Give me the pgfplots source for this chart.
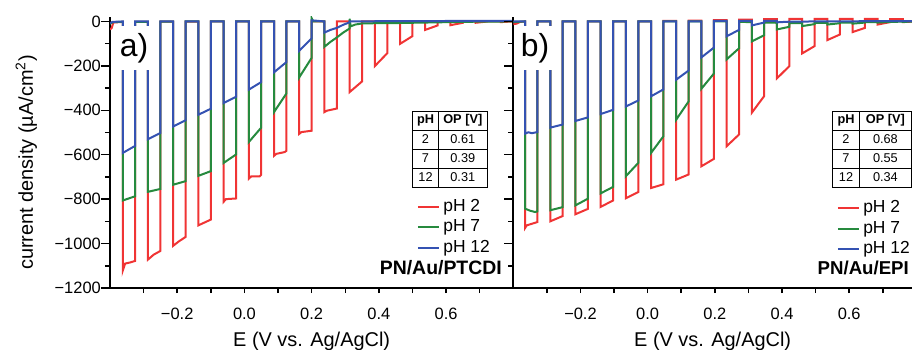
\documentclass[border=0pt]{standalone}
\usepackage{fontspec}
\setmainfont{Liberation Sans}
\usepackage{pgfplots}
\pgfplotsset{compat=1.18}
\definecolor{cred}{RGB}{240,52,52}
\definecolor{cgreen}{RGB}{38,138,62}
\definecolor{cblue}{RGB}{52,82,178}
\pgfplotsset{
  panel/.style={
    scale only axis, height=271bp,
    xmin=-0.4, ymin=-1200, ymax=20,
    axis x line*=bottom, axis y line*=left,
    axis line style={line width=1.8bp, -},
    every tick/.style={black, line width=1.5bp},
    tick align=outside,
    major tick length=9bp, minor tick length=5bp,
    xtick style={/pgfplots/major tick length=5bp},
    xtick={-0.2,0,0.2,0.4,0.6},
    minor xtick={-0.3,-0.1,0.1,0.3,0.5,0.7},
    ytick={-1200,-1000,-800,-600,-400,-200,0},
    minor ytick={-1100,-900,-700,-500,-300,-100},
    xticklabels={−0.2,0.0,0.2,0.4,0.6},
    tick label style={font=\fontsize{16.5}{16.5}\selectfont},
    yticklabel style={anchor=east, inner sep=0pt},
    xticklabel style={anchor=north, inner sep=0pt, yshift=-11bp},
    xlabel={E (V vs. Ag/AgCl)},
    xlabel style={at={(axis description cs:0.5,-0.216)}, anchor=base, font=\fontsize{20}{20}\selectfont},
    clip=true,
    legend cell align=left,
    legend style={draw=none, fill=none, inner sep=0pt, column sep=3.4bp, row sep=3.5bp,
      font=\fontsize{17.5}{17.5}\selectfont,
      nodes={inner sep=0pt, text height=13bp, text depth=4bp}},
    legend image code/.code={\draw[#1] (0bp,0bp) -- (21bp,0bp);},
  },
  tr/.style={line width=2bp, no markers, #1},
}
\begin{document}
\begin{tikzpicture}
% ---------------- panel a ----------------
\begin{axis}[panel, at={(110bp,62bp)}, anchor=south west, width=403.3bp, xmax=0.8,
  yticklabels={−1200,−1000,−800,−600,−400,−200,0},
  ylabel={current density (µA/cm\textsuperscript{2})},
  ylabel style={at={(axis description cs:-0.191,0.463)}, anchor=base, rotate=0, font=\fontsize{20}{20}\selectfont},
  legend style={at={(axis description cs:0.7605,0.3314)}, anchor=north west}]
\addplot[tr=cred] coordinates {
(-0.400,-36) (-0.395,-30) (-0.390,-5) (-0.362,-2)
(-0.362,-1122) (-0.355,-1090) (-0.340,-1085) (-0.325,-1078) (-0.325,-2) (-0.287,-2)
(-0.287,-1072) (-0.270,-1050) (-0.250,-1033) (-0.250,-1) (-0.212,-1)
(-0.212,-1010) (-0.195,-990) (-0.175,-970) (-0.175,-1) (-0.137,-1)
(-0.137,-918) (-0.100,-892) (-0.100,0) (-0.062,0)
(-0.062,-812) (-0.055,-800) (-0.025,-797) (-0.025,0) (0.013,0)
(0.013,-708) (0.020,-698) (0.045,-698) (0.050,-690) (0.050,0) (0.088,0)
(0.088,-605) (0.095,-596) (0.120,-588) (0.125,-582) (0.125,0) (0.163,0)
(0.163,-506) (0.170,-498) (0.200,-492) (0.200,0) (0.238,0)
(0.238,-408) (0.245,-402) (0.275,-392) (0.275,0) (0.313,0)
(0.313,-318) (0.350,-270) (0.350,0) (0.388,0)
(0.388,-201) (0.425,-143) (0.425,0) (0.463,0)
(0.463,-101) (0.500,-66) (0.500,0) (0.538,0)
(0.538,-38) (0.575,-18) (0.575,0) (0.613,0)
(0.613,-17) (0.650,-6) (0.650,0) (0.688,0)
(0.688,-6) (0.725,0) (0.763,0)
(0.763,-3) (0.800,0)
};
\addlegendentry{pH 2}
\addplot[tr=cgreen] coordinates {
(-0.400,-10) (-0.390,-3) (-0.362,-2)
(-0.362,-806) (-0.325,-787) (-0.325,-2) (-0.287,-2)
(-0.287,-767) (-0.250,-754) (-0.250,-1) (-0.212,-1)
(-0.212,-735) (-0.175,-719) (-0.175,0) (-0.137,0)
(-0.137,-695) (-0.100,-674) (-0.100,0) (-0.062,0)
(-0.062,-637) (-0.025,-599) (-0.025,0) (0.013,0)
(0.013,-543) (0.050,-478) (0.050,0) (0.088,0)
(0.088,-408) (0.125,-324) (0.125,0) (0.163,0)
(0.163,-252) (0.200,-164) (0.200,15) (0.205,0) (0.238,0)
(0.238,-114) (0.256,-92) (0.275,-72) (0.294,-50) (0.313,-32) (0.313,12) (0.316,-22)
(0.330,-14) (0.350,-9) (0.388,-8) (0.425,-8) (0.463,-7) (0.500,-6) (0.538,-5)
(0.575,-4) (0.613,-3) (0.650,-2) (0.700,-1) (0.800,0)
};
\addlegendentry{pH 7}
\addplot[tr=cblue] coordinates {
(-0.400,-8) (-0.392,-2) (-0.362,0)
(-0.362,-592) (-0.325,-560) (-0.325,0) (-0.287,0)
(-0.287,-530) (-0.250,-502) (-0.250,0) (-0.212,0)
(-0.212,-473) (-0.175,-445) (-0.175,0) (-0.137,0)
(-0.137,-420) (-0.100,-393) (-0.100,0) (-0.062,0)
(-0.062,-367) (-0.025,-339) (-0.025,0) (0.013,0)
(0.013,-307) (0.050,-273) (0.050,0) (0.088,0)
(0.088,-229) (0.125,-183) (0.125,0) (0.163,0)
(0.163,-132) (0.200,-76) (0.200,5) (0.238,0)
(0.238,-50) (0.256,-38) (0.275,-29) (0.294,-15) (0.313,-4) (0.313,0)
(0.400,1) (0.600,2) (0.800,3)
};
\addlegendentry{pH 12}
\end{axis}
% ---------------- panel b ----------------
\begin{axis}[panel, at={(513.3bp,62bp)}, anchor=south west, width=398.7bp, xmax=0.787,
  yticklabels={},
  legend style={at={(axis description cs:0.8111,0.3266)}, anchor=north west}]
\addplot[tr=cred] coordinates {
(-0.400,-12) (-0.390,-10) (-0.380,-2) (-0.365,0)
(-0.365,-930) (-0.360,-918) (-0.328,-903) (-0.328,0) (-0.290,0)
(-0.290,-900) (-0.253,-876) (-0.253,0) (-0.215,0)
(-0.215,-868) (-0.178,-844) (-0.178,0) (-0.140,0)
(-0.140,-835) (-0.103,-806) (-0.103,0) (-0.065,0)
(-0.065,-796) (-0.028,-768) (-0.028,0) (0.010,0)
(0.010,-750) (0.047,-733) (0.047,2) (0.085,2)
(0.085,-712) (0.122,-689) (0.122,4) (0.160,4)
(0.160,-652) (0.197,-619) (0.197,6) (0.235,6)
(0.235,-562) (0.272,-509) (0.272,8) (0.310,8)
(0.310,-411) (0.347,-336) (0.347,10) (0.385,10)
(0.385,-256) (0.422,-201) (0.422,12) (0.460,12)
(0.460,-144) (0.497,-111) (0.497,12) (0.535,12)
(0.535,-84) (0.572,-59) (0.572,12) (0.610,12)
(0.610,-48) (0.647,-29) (0.647,12) (0.685,12)
(0.685,-14) (0.722,-3) (0.722,10) (0.760,10)
(0.760,-3) (0.797,0) (0.797,8) (0.800,8)
};
\addlegendentry{pH 2}
\addplot[tr=cgreen] coordinates {
(-0.400,-3) (-0.365,0)
(-0.365,-843) (-0.350,-852) (-0.335,-858) (-0.328,-855) (-0.328,0) (-0.290,0)
(-0.290,-850) (-0.253,-836) (-0.253,0) (-0.215,0)
(-0.215,-828) (-0.178,-798) (-0.178,0) (-0.140,0)
(-0.140,-774) (-0.103,-745) (-0.103,0) (-0.065,0)
(-0.065,-697) (-0.028,-637) (-0.028,0) (0.010,0)
(0.010,-592) (0.047,-517) (0.047,0) (0.085,0)
(0.085,-442) (0.122,-360) (0.122,0) (0.160,0)
(0.160,-303) (0.197,-235) (0.197,0) (0.235,0)
(0.235,-171) (0.272,-121) (0.272,-2) (0.310,-3)
(0.310,-90) (0.347,-62) (0.347,-5) (0.385,-6)
(0.385,-36) (0.422,-24) (0.422,-8) (0.460,-8)
(0.460,-21) (0.497,-12) (0.497,-7) (0.535,-7)
(0.535,-14) (0.572,-8) (0.572,-5) (0.610,-5)
(0.610,-10) (0.647,-5) (0.647,-3) (0.685,-3)
(0.685,-5) (0.722,-2) (0.760,-1)
(0.760,-2) (0.800,0)
};
\addlegendentry{pH 7}
\addplot[tr=cblue] coordinates {
(-0.400,0) (-0.365,0)
(-0.365,-505) (-0.355,-499) (-0.345,-503) (-0.328,-498) (-0.328,0) (-0.290,0)
(-0.290,-478) (-0.253,-464) (-0.253,0) (-0.215,0)
(-0.215,-448) (-0.178,-432) (-0.178,0) (-0.140,0)
(-0.140,-417) (-0.103,-398) (-0.103,0) (-0.065,0)
(-0.065,-383) (-0.028,-356) (-0.028,0) (0.010,0)
(0.010,-337) (0.047,-306) (0.047,0) (0.085,0)
(0.085,-262) (0.122,-221) (0.122,0) (0.160,0)
(0.160,-162) (0.197,-118) (0.197,2) (0.235,2)
(0.235,-67) (0.272,-38) (0.272,2) (0.310,2)
(0.310,-18) (0.347,-5) (0.347,2) (0.385,2)
(0.385,-4) (0.422,-1) (0.500,0) (0.800,2)
};
\addlegendentry{pH 12}
\end{axis}
% ---------------- panel labels ----------------
\node[fill=white, inner sep=0pt, minimum width=40bp, minimum height=44bp,
  font=\fontsize{32}{32}\selectfont] at (134bp,301.5bp) {a)};
\node[fill=white, inner sep=0pt, minimum width=40bp, minimum height=44bp,
  font=\fontsize{32}{32}\selectfont] at (535bp,301.5bp) {b)};
\node[anchor=base east, inner sep=0pt, font=\fontsize{19.5}{19.5}\selectfont\bfseries] at (502bp,75bp) {PN/Au/PTCDI};
\node[anchor=base east, inner sep=0pt, font=\fontsize{18.7}{18.7}\selectfont\bfseries] at (909bp,75bp) {PN/Au/EPI};
% ---------------- tables ----------------
\begin{scope}[line width=0.8bp, font=\fontsize{12.8}{12.8}\selectfont]
\draw[fill=white] (412.7bp,163bp) rectangle (487.3bp,239bp);
\draw (412.7bp,220bp) -- (487.3bp,220bp) (412.7bp,201bp) -- (487.3bp,201bp) (412.7bp,182bp) -- (487.3bp,182bp);
\draw (438.3bp,163bp) -- (438.3bp,239bp);
\node at (425.5bp,229.5bp) {\textbf{pH}};
\node at (462.8bp,229.5bp) {\textbf{OP [V]}};
\node at (425.5bp,210.5bp) {2};  \node at (462.8bp,210.5bp) {0.61};
\node at (425.5bp,191.5bp) {7};  \node at (462.8bp,191.5bp) {0.39};
\node at (425.5bp,172.5bp) {12}; \node at (462.8bp,172.5bp) {0.31};
\draw[fill=white] (832.7bp,163bp) rectangle (911.4bp,239bp);
\draw (832.7bp,220bp) -- (911.4bp,220bp) (832.7bp,201bp) -- (911.4bp,201bp) (832.7bp,182bp) -- (911.4bp,182bp);
\draw (859.3bp,163bp) -- (859.3bp,239bp);
\node at (846bp,229.5bp) {\textbf{pH}};
\node at (885.4bp,229.5bp) {\textbf{OP [V]}};
\node at (846bp,210.5bp) {2};  \node at (885.4bp,210.5bp) {0.68};
\node at (846bp,191.5bp) {7};  \node at (885.4bp,191.5bp) {0.55};
\node at (846bp,172.5bp) {12}; \node at (885.4bp,172.5bp) {0.34};
\end{scope}
\pgfresetboundingbox
\useasboundingbox (0bp,0bp) rectangle (912bp,350bp);
\end{tikzpicture}
\end{document}
